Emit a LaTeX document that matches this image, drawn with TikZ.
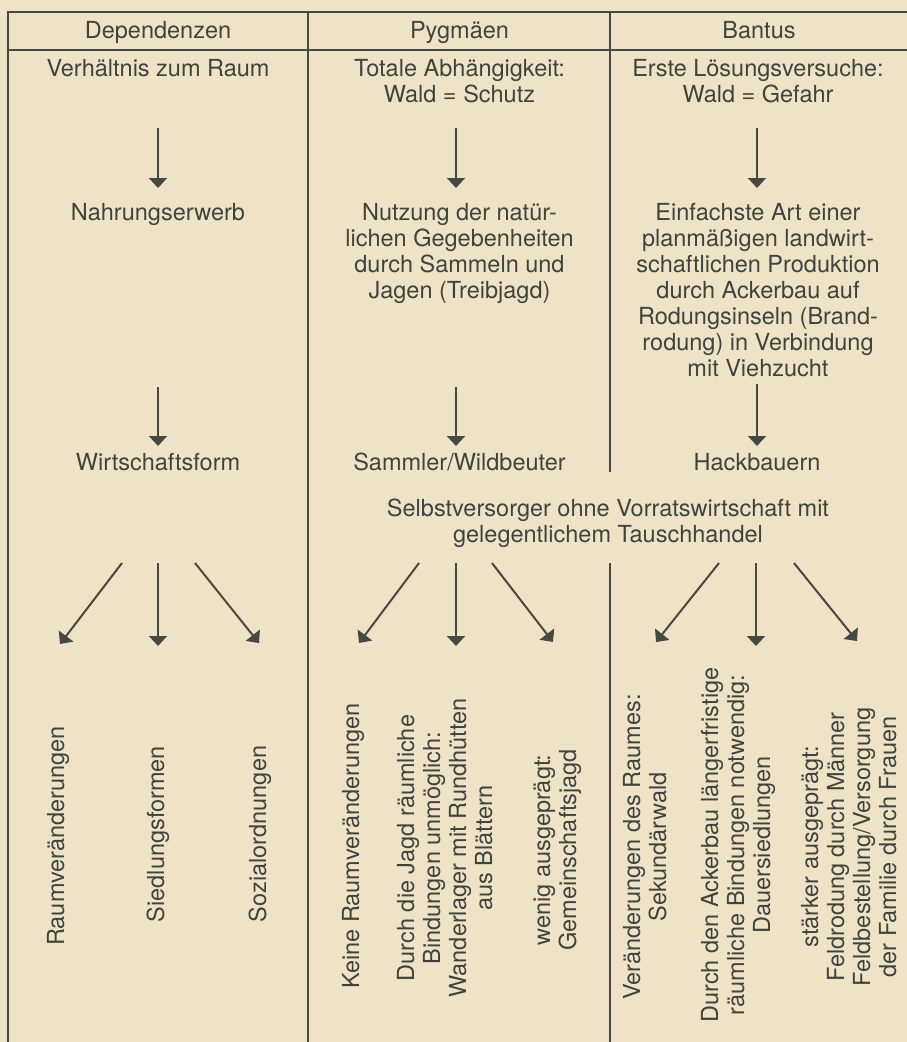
\documentclass[tikz,border=0pt]{standalone}
\usepackage{fontspec}
\setmainfont{TeX Gyre Heros}
\usetikzlibrary{arrows.meta}
\definecolor{paper}{HTML}{EFE3C7}
\definecolor{ink}{HTML}{3E443D}
\definecolor{rulec}{HTML}{454942}
\newcommand{\mlines}[1]{\begin{tabular}[t]{@{}c@{}}#1\end{tabular}}
\begin{document}
\begin{tikzpicture}[x=1pt,y=-1pt,
  txt/.style={inner sep=0pt, text=ink, anchor=base, font=\fontsize{23.5pt}{26pt}\selectfont},
  rtxt/.style={txt, rotate=90},
  frame/.style={draw=rulec, line width=2.6pt},
  arr/.style={draw=rulec, line width=2pt, -{Triangle[width=18pt,length=10pt]}}]
\useasboundingbox (0,0) rectangle (907,1042);
\fill[paper] (0,0) rectangle (907,1042);
% frame
\draw[frame] (8,12) -- (907,12);
\draw[frame] (8,50) -- (907,50);
\draw[frame] (8,11) -- (8,1042);
\draw[frame] (308,11) -- (308,1042);
\draw[frame] (610,11) -- (610,472);
\draw[frame] (610,563) -- (610,1042);
% headers
\node[txt] (h1) at (158,38.5) {Dependenzen};
\node[txt] (h2) at (459.5,38.5) {Pygmäen};
\node[txt] (h3) at (759,38.5) {Bantus};
% row: Raum
\node[txt] (r1) at (158,76.5) {Verhältnis zum Raum};
\node[txt] (p1) at (459.5,76.5) {\mlines{Totale Abhängigkeit:\\Wald = Schutz}};
\node[txt] (b1) at (758,76.5) {\mlines{Erste Lösungsversuche:\\Wald = Gefahr}};
% row: Nahrung
\node[txt] (r2) at (158,220) {Nahrungserwerb};
\node[txt] (p2) at (459.5,220) {\mlines{Nutzung der natür-\\lichen Gegebenheiten\\durch Sammeln und\\Jagen (Treibjagd)}};
\node[txt] (b2) at (758,220) {\mlines{Einfachste Art einer\\planmäßigen landwirt-\\schaftlichen Produktion\\durch Ackerbau auf\\Rodungsinseln (Brand-\\rodung) in Verbindung\\mit Viehzucht}};
% row: Wirtschaftsform
\node[txt] (r3) at (158,470) {Wirtschaftsform};
\node[txt] (p3) at (459.5,470) {Sammler/Wildbeuter};
\node[txt] (b3) at (757,470) {Hackbauern};
\node[txt] (sv) at (608,516) {\mlines{Selbstversorger ohne Vorratswirtschaft mit\\gelegentlichem Tauschhandel}};
% rotated results
\node[rtxt] (d1) at (64,836) {Raumveränderungen};
\node[rtxt] (d2) at (164,834) {Siedlungsformen};
\node[rtxt] (d3) at (266,834) {Sozialordnungen};
\node[rtxt] (q1) at (359,846) {Keine Raumveränderungen};
\node[rtxt] (q2) at (414,848) {\mlines{Durch die Jagd räumliche\\Bindungen unmöglich:\\Wanderlager mit Rundhütten\\aus Blättern}};
\node[rtxt] (q3) at (550,850) {\mlines{wenig ausgeprägt:\\Gemeinschaftsjagd}};
\node[rtxt] (c1) at (640,847) {\mlines{Veränderungen des Raumes:\\Sekundärwald}};
\node[rtxt] (c2) at (718,845) {\mlines{Durch den Ackerbau längerfristige\\räumliche Bindungen notwendig:\\Dauersiedlungen}};
\node[rtxt] (c3) at (818,847) {\mlines{stärker ausgeprägt:\\Feldrodung durch Männer\\Feldbestellung/Versorgung\\der Familie durch Frauen}};
% arrow end points
\coordinate (r1s) at (158,128); \coordinate (r2e) at (158,188);
\coordinate (p1s) at (456,128); \coordinate (p2e) at (456,188);
\coordinate (b1s) at (757,128); \coordinate (b2e) at (757,188);
\coordinate (r2s) at (158,387); \coordinate (r3e) at (158,446);
\coordinate (p2s) at (456,387); \coordinate (p3e) at (456,446);
\coordinate (b2s) at (757,384); \coordinate (b3e) at (757,446);
% fan starts
\coordinate (rL) at (122,563); \coordinate (rM) at (158,563); \coordinate (rR) at (195,563);
\coordinate (pL) at (419,563); \coordinate (pM) at (456,563); \coordinate (pR) at (492,563);
\coordinate (bL) at (719,563); \coordinate (bM) at (756,563); \coordinate (bR) at (794,563);
% fan ends
\coordinate (d1e) at (60,644); \coordinate (d2e) at (158,646); \coordinate (d3e) at (259,643);
\coordinate (q1e) at (359,643); \coordinate (q2e) at (456,646); \coordinate (q3e) at (553,642);
\coordinate (c1e) at (656,642); \coordinate (c2e) at (756,646); \coordinate (c3e) at (857,641);
% arrows
\draw[arr] (r1s) -- (r2e);
\draw[arr] (p1s) -- (p2e);
\draw[arr] (b1s) -- (b2e);
\draw[arr] (r2s) -- (r3e);
\draw[arr] (p2s) -- (p3e);
\draw[arr] (b2s) -- (b3e);
\draw[arr] (rL) -- (d1e);
\draw[arr] (rM) -- (d2e);
\draw[arr] (rR) -- (d3e);
\draw[arr] (pL) -- (q1e);
\draw[arr] (pM) -- (q2e);
\draw[arr] (pR) -- (q3e);
\draw[arr] (bL) -- (c1e);
\draw[arr] (bM) -- (c2e);
\draw[arr] (bR) -- (c3e);
\end{tikzpicture}
\end{document}
